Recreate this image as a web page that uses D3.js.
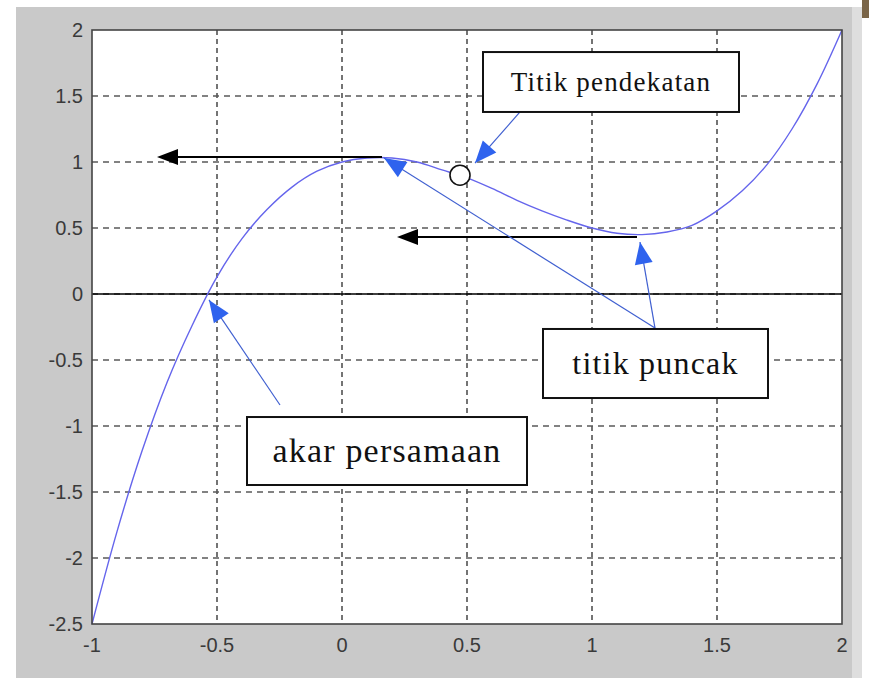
<!DOCTYPE html>
<html><head><meta charset="utf-8">
<script src="https://cdn.jsdelivr.net/npm/d3@7"></script>
<style>body{margin:0;background:#fff}svg{display:block}</style>
</head><body>
<script>
// ---- data ----
const xValues = [-1,-0.9,-0.8,-0.7,-0.6,-0.5,-0.4,-0.3,-0.2,-0.1,0,0.1,0.2,0.3,0.4,0.5,0.6,0.7,0.8,0.9,1,1.1,1.2,1.3,1.4,1.5,1.6,1.7,1.8,1.9,2];
const yValues = [-2.5,-1.8,-1.19,-0.67,-0.24,0.13,0.42,0.64,0.81,0.93,1.0,1.03,1.03,1.0,0.94,0.88,0.8,0.71,0.63,0.56,0.5,0.46,0.45,0.47,0.52,0.63,0.78,0.98,1.25,1.59,2];
const xTicks = [-1,-0.5,0,0.5,1,1.5,2];
const yTicks = [2,1.5,1,0.5,0,-0.5,-1,-1.5,-2,-2.5];
const xTickLabels = ["-1","-0.5","0","0.5","1","1.5","2"];
const yTickLabels = ["2","1.5","1","0.5","0","-0.5","-1","-1.5","-2","-2.5"];
// black horizontal arrows: [tailX, tipX, y]
const blackArrows = [[0.16,-0.74,1.038],[1.18,0.22,0.432]];
// blue annotation arrows: [tailX, tailY, tipX, tipY]
const blueArrows = [[0.712,1.379,0.532,0.992],[1.252,-0.258,0.168,1.03],[1.252,-0.258,1.192,0.394],[-0.248,-0.841,-0.532,-0.045]];
// approximation point
const approxPoint = [0.472,0.90];
// text boxes: [label, x0, y0, x1, y1, fontSize]
const boxLabels = ["Titik pendekatan","titik puncak","akar persamaan"];
const boxExtents = [[0.564,1.833,1.588,1.379],[0.804,-0.265,1.704,-0.788],[-0.38,-0.932,0.74,-1.447]];
const boxFont = [27,32,34];

// ---- layout ----
const W = 869, H = 678;
const svg = d3.select("body").append("svg").attr("width",W).attr("height",H);
svg.append("rect").attr("x",0).attr("y",0).attr("width",W).attr("height",H).attr("fill","#fff");
svg.append("rect").attr("x",16).attr("y",7).attr("width",836).attr("height",H-7).attr("fill","#c9c9c9");
svg.append("rect").attr("x",852).attr("y",7).attr("width",10).attr("height",H-7).attr("fill","#dedede");
svg.append("rect").attr("x",862).attr("y",0).attr("width",7).attr("height",18).attr("fill","#7a6548");

const L=92, R=842, T=30, B=624;
const x = d3.scaleLinear().domain([-1,2]).range([L,R]);
const y = d3.scaleLinear().domain([-2.5,2]).range([B,T]);

svg.append("rect").attr("x",L).attr("y",T).attr("width",R-L).attr("height",B-T).attr("fill","#fff");

// grid
const g = svg.append("g");
g.selectAll(".vg").data(xTicks.slice(1,-1)).join("line")
  .attr("x1",d=>x(d)).attr("x2",d=>x(d)).attr("y1",T).attr("y2",B)
  .attr("stroke","#3a3a3a").attr("stroke-width",1.4).attr("stroke-dasharray","5,4");
g.selectAll(".hg").data(yTicks.slice(1,-1)).join("line")
  .attr("y1",d=>y(d)).attr("y2",d=>y(d)).attr("x1",L).attr("x2",R)
  .attr("stroke","#5a5a5a").attr("stroke-width",1.6).attr("stroke-dasharray","6,5");

// zero line
svg.append("line").attr("x1",x(-1)).attr("x2",x(2)).attr("y1",y(0)).attr("y2",y(0))
  .attr("stroke","#000").attr("stroke-width",1.6);

// curve
const pts = xValues.map((v,i)=>[v,yValues[i]]);
svg.append("path").datum(pts)
  .attr("d",d3.line().x(d=>x(d[0])).y(d=>y(d[1])).curve(d3.curveCatmullRom))
  .attr("fill","none").attr("stroke","#6565ec").attr("stroke-width",1.4);

// axes box
svg.append("rect").attr("x",L).attr("y",T).attr("width",R-L).attr("height",B-T)
  .attr("fill","none").attr("stroke","#444").attr("stroke-width",1.6);

// tick labels
svg.selectAll(".xt").data(xTicks).join("text")
  .attr("x",(d)=>x(d)).attr("y",B+28).attr("text-anchor","middle")
  .attr("font-family","Liberation Sans, Arial, sans-serif").attr("font-size",20).attr("fill","#3a3a3a")
  .text((d,i)=>xTickLabels[i]);
svg.selectAll(".yt").data(yTicks).join("text")
  .attr("x",L-9).attr("y",d=>y(d)).attr("dy","0.36em").attr("text-anchor","end")
  .attr("font-family","Liberation Sans, Arial, sans-serif").attr("font-size",20).attr("fill","#3a3a3a")
  .text((d,i)=>yTickLabels[i]);

// arrow head helper
function head(sel, x1,y1,x2,y2,len,hw,color){
  const a = Math.atan2(y2-y1,x2-x1);
  const bx = x2-len*Math.cos(a), by = y2-len*Math.sin(a);
  const nx = -Math.sin(a)*hw, ny = Math.cos(a)*hw;
  sel.append("path").attr("d",`M${x2},${y2}L${bx+nx},${by+ny}L${bx-nx},${by-ny}Z`).attr("fill",color);
}

// black arrows
blackArrows.forEach(d=>{
  svg.append("line").attr("x1",x(d[0])).attr("x2",x(d[1])+10).attr("y1",y(d[2])).attr("y2",y(d[2]))
    .attr("stroke","#000").attr("stroke-width",2);
  head(svg,x(d[0]),y(d[2]),x(d[1]),y(d[2]),21,8,"#000");
});

// blue arrows
blueArrows.forEach(d=>{
  svg.append("line").attr("x1",x(d[0])).attr("y1",y(d[1])).attr("x2",x(d[2])).attr("y2",y(d[3]))
    .attr("stroke","#3f5fd0").attr("stroke-width",1.2);
  head(svg,x(d[0]),y(d[1]),x(d[2]),y(d[3]),22,9,"#2f63ee");
});

// approx point circle
svg.append("circle").attr("cx",x(approxPoint[0])).attr("cy",y(approxPoint[1])).attr("r",10)
  .attr("fill","#fff").attr("stroke","#111").attr("stroke-width",1.6);

// text boxes
boxLabels.forEach((lab,i)=>{
  const e = boxExtents[i];
  const x0=x(e[0]), x1=x(e[2]), y0=y(e[1]), y1=y(e[3]);
  svg.append("rect").attr("x",x0).attr("y",y0).attr("width",x1-x0).attr("height",y1-y0)
    .attr("fill","#fff").attr("stroke","#111").attr("stroke-width",2);
  svg.append("text").attr("x",(x0+x1)/2).attr("y",(y0+y1)/2).attr("dy","0.33em")
    .attr("text-anchor","middle").attr("font-family","Liberation Serif, Times New Roman, serif")
    .attr("font-size",boxFont[i]).attr("letter-spacing","1.2px").attr("fill","#111").text(lab);
});
</script>
</body></html>
